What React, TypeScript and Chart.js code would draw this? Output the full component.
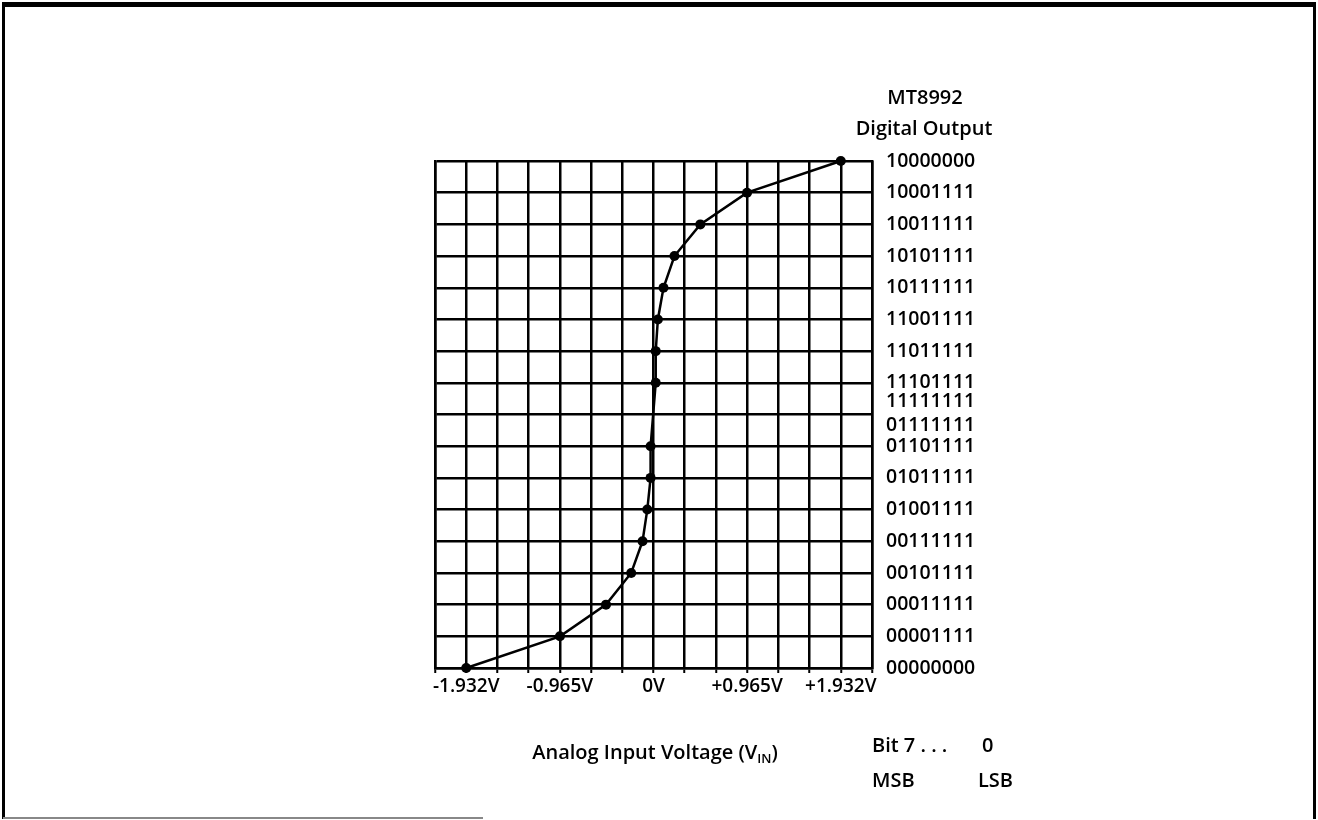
import React, { useEffect, useRef } from 'react';
import { Chart, registerables } from 'chart.js';

Chart.register(...registerables);

// Analog input voltage (V) for each measured output code point
const INPUT_VOLTAGE = [-1.932, -0.965, -0.49, -0.23, -0.113, -0.064, -0.03, -0.03, 0.023, 0.023, 0.045, 0.103, 0.216, 0.483, 0.965, 1.932];
// Output code level (row index on the code axis)
const OUTPUT_LEVEL = [0, 1, 2, 3, 4, 5, 6, 7, 9, 10, 11, 12, 13, 14, 15, 16];

// Code axis labels and their positions
const CODE_LABELS = ['00000000', '00001111', '00011111', '00101111', '00111111', '01001111', '01011111', '01101111', '01111111', '11111111', '11101111', '11011111', '11001111', '10111111', '10101111', '10011111', '10001111', '10000000'];
const CODE_POSITIONS = [0, 1, 2, 3, 4, 5, 6, 7, 7.65, 8.4, 9, 10, 11, 12, 13, 14, 15, 16];

// Voltage grid: one division = 0.322 V, 14 divisions
const VOLT_DIVISION = 0.322;
const X_GRID_INDEX = [-7, -6, -5, -4, -3, -2, -1, 0, 1, 2, 3, 4, 5, 6, 7];
const X_TICK_LABELS = ['', '-1.932V', '', '', '-0.965V', '', '', '0V', '', '', '+0.965V', '', '', '+1.932V', ''];

const FONT_FAMILY = '"Open Sans", "DejaVu Sans", sans-serif';

export default function App() {
  const canvasRef = useRef<HTMLCanvasElement | null>(null);

  useEffect(() => {
    const canvas = canvasRef.current;
    if (!canvas) return;
    const points = INPUT_VOLTAGE.map((v, i) => ({ x: v, y: OUTPUT_LEVEL[i] }));
    const xMin = X_GRID_INDEX[0] * VOLT_DIVISION;
    const xMax = X_GRID_INDEX[X_GRID_INDEX.length - 1] * VOLT_DIVISION;

    const chart = new Chart(canvas, {
      type: 'line',
      data: {
        datasets: [
          {
            data: points,
            borderColor: '#000',
            backgroundColor: '#000',
            borderWidth: 2.5,
            pointRadius: 5,
            pointBackgroundColor: '#000',
            pointBorderColor: '#000',
            pointBorderWidth: 0,
            tension: 0,
            clip: false as any,
          },
        ],
      },
      options: {
        responsive: false,
        animation: false,
        events: [],
        layout: { padding: { left: 435, top: 161, right: 306, bottom: 112 } },
        plugins: { legend: { display: false }, tooltip: { enabled: false }, title: { display: false } },
        scales: {
          x: {
            type: 'linear',
            position: 'bottom',
            min: xMin,
            max: xMax,
            afterBuildTicks: (s: any) => {
              s.ticks = X_GRID_INDEX.map((k) => ({ value: k * VOLT_DIVISION }));
            },
            afterFit: (s: any) => {
              s.height = 40;
            },
            grid: { color: '#000', lineWidth: 2.5, drawTicks: true, tickLength: 5, tickColor: '#000', tickWidth: 2 },
            border: { display: true, color: '#000', width: 2.5 },
            ticks: {
              autoSkip: false,
              maxRotation: 0,
              padding: 2,
              color: '#000',
              font: { family: FONT_FAMILY, size: 19, weight: 600 as any },
              callback: (_v: any, i: number) => X_TICK_LABELS[i],
            },
          },
          y: {
            type: 'linear',
            position: 'left',
            min: 0,
            max: 16,
            ticks: { stepSize: 1, display: false },
            afterFit: (s: any) => {
              s.width = 0;
            },
            grid: { color: '#000', lineWidth: 2.5, drawTicks: false },
            border: { display: true, color: '#000', width: 2.5 },
          },
          y2: {
            type: 'linear',
            position: 'right',
            min: 0,
            max: 16,
            afterBuildTicks: (s: any) => {
              s.ticks = CODE_POSITIONS.map((p) => ({ value: p }));
            },
            afterFit: (s: any) => {
              s.width = 140;
            },
            grid: { display: false, drawTicks: false },
            border: { display: true, color: '#000', width: 2.5 },
            ticks: {
              autoSkip: false,
              padding: 14,
              color: '#000',
              font: { family: FONT_FAMILY, size: 19.5, weight: 600 as any },
              callback: (_v: any, i: number) => CODE_LABELS[i],
            },
          },
        },
      },
    });
    return () => chart.destroy();
  }, []);

  const textStyle: React.CSSProperties = {
    position: 'absolute',
    fontFamily: FONT_FAMILY,
    fontWeight: 600,
    fontSize: 20,
    color: '#000',
    whiteSpace: 'nowrap',
    lineHeight: 1,
  };
  const centered = (x: number, y: number): React.CSSProperties => ({
    ...textStyle,
    left: x,
    top: y,
    transform: 'translate(-50%, -50%)',
  });
  const leftAt = (x: number, y: number): React.CSSProperties => ({
    ...textStyle,
    left: x,
    top: y,
    transform: 'translate(0, -50%)',
  });

  return (
    <div style={{ position: 'absolute', left: 0, top: 0, width: 1318, height: 820, background: '#fff', overflow: 'hidden' }}>
      <div
        style={{
          position: 'absolute',
          left: 2,
          top: 2,
          width: 1314,
          height: 817,
          boxSizing: 'border-box',
          borderTop: '5px solid #000',
          borderLeft: '3px solid #000',
          borderRight: '3px solid #000',
        }}
      />
      <div style={{ position: 'absolute', left: 3, top: 817, width: 480, height: 2, background: '#888' }} />
      <canvas ref={canvasRef} width={1318} height={820} style={{ position: 'absolute', left: 0, top: 0, width: 1318, height: 820 }} />
      <div style={centered(925, 97)}>MT8992</div>
      <div style={centered(924, 128)}>Digital Output</div>
      <div style={centered(655, 752)}>
        Analog Input Voltage (V<sub style={{ fontSize: 13, verticalAlign: 'baseline', position: 'relative', top: 4 }}>IN</sub>)
      </div>
      <div style={leftAt(872, 745)}>Bit 7 . . .</div>
      <div style={leftAt(982, 745)}>0</div>
      <div style={leftAt(872, 780)}>MSB</div>
      <div style={leftAt(978, 780)}>LSB</div>
    </div>
  );
}
